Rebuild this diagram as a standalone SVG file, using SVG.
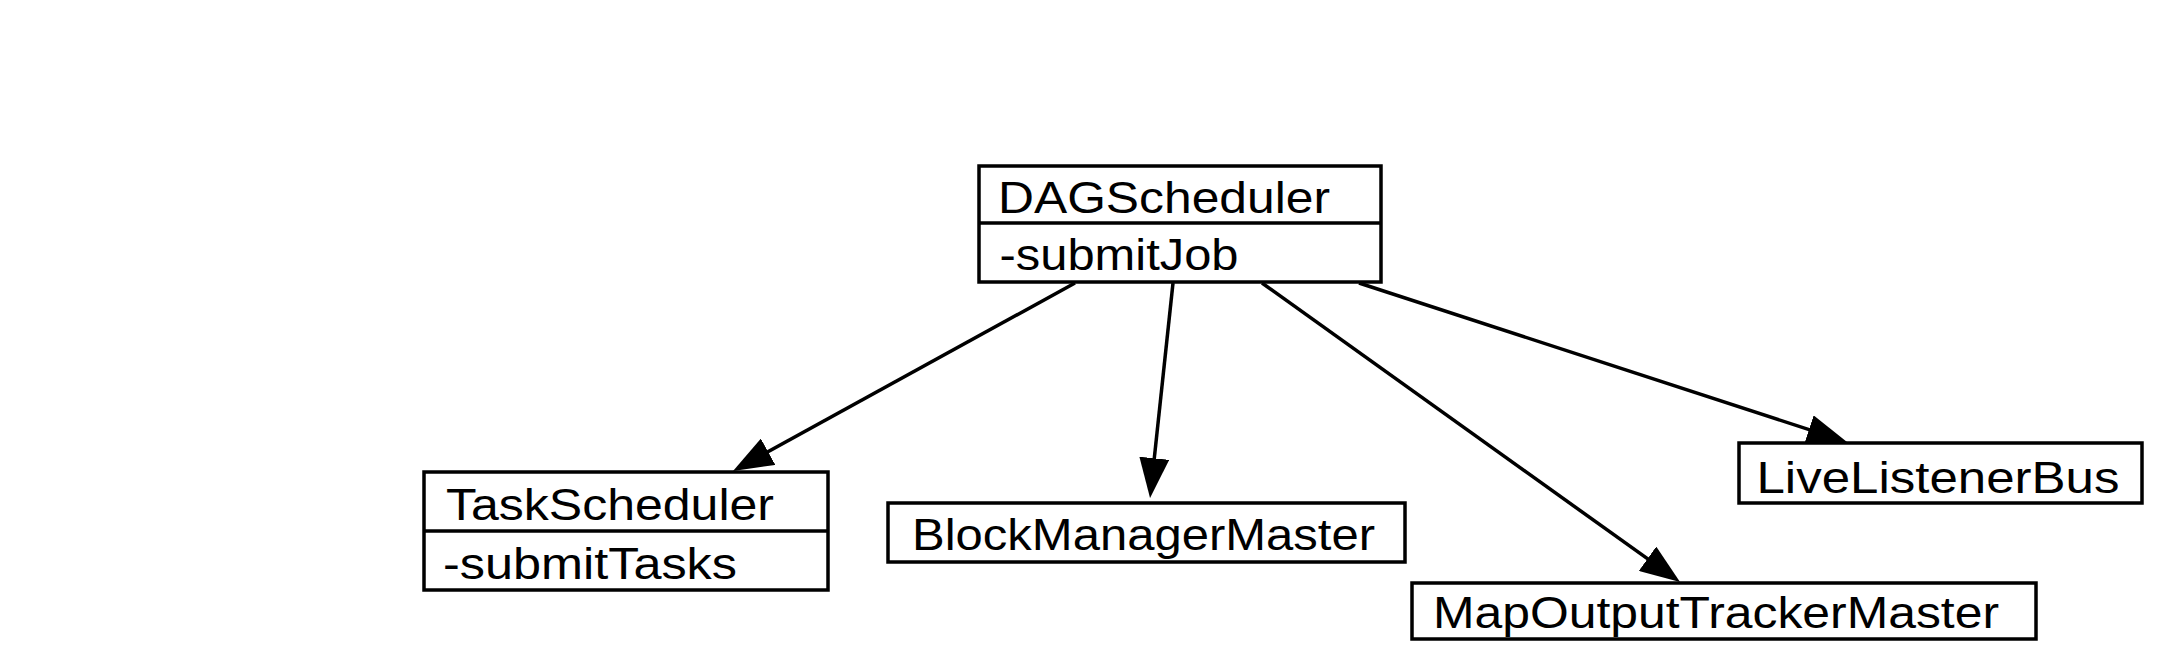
<svg xmlns="http://www.w3.org/2000/svg" width="2158" height="658" viewBox="0 0 2158 658">
<style>
.box{fill:#fff;stroke:#000;stroke-width:3.5}
.div{stroke:#000;stroke-width:3.5}
.t{font-family:"Liberation Sans",Arial,sans-serif;font-size:44px;fill:#000}
.edge{fill:none;stroke:#000;stroke-width:3.5;marker-end:url(#arr)}
</style>
<defs>
<marker id="arr" viewBox="0 0 40 30" refX="30" refY="15" markerWidth="40" markerHeight="30" orient="auto" markerUnits="userSpaceOnUse">
<path d="M0,0 L40,15 L0,30 z" fill="#000"/>
</marker>
</defs>
<rect width="2158" height="658" fill="#fff"/>
<g id="connectors">
<path class="edge" d="M1075,283 L741.8,466.2"/>
<path class="edge" d="M1173,283 L1151.1,488.1"/>
<path class="edge" d="M1262,283 L1671.9,576.2"/>
<path class="edge" d="M1359,283 L1837.5,438.9"/>
</g>
<g id="DAGScheduler">
<rect class="box" x="979" y="166" width="402" height="116"/>
<line class="div" x1="979" y1="223" x2="1381" y2="223"/>
<text class="t" x="998" y="213" textLength="332" lengthAdjust="spacingAndGlyphs">DAGScheduler</text>
<text class="t" x="999.5" y="270" textLength="239" lengthAdjust="spacingAndGlyphs">-submitJob</text>
</g>
<g id="TaskScheduler">
<rect class="box" x="424" y="472" width="404" height="118"/>
<line class="div" x1="424" y1="531" x2="828" y2="531"/>
<text class="t" x="446" y="520" textLength="328" lengthAdjust="spacingAndGlyphs">TaskScheduler</text>
<text class="t" x="443" y="579" textLength="294" lengthAdjust="spacingAndGlyphs">-submitTasks</text>
</g>
<g id="BlockManagerMaster">
<rect class="box" x="888" y="503" width="517" height="59"/>
<text class="t" x="912" y="550" textLength="463" lengthAdjust="spacingAndGlyphs">BlockManagerMaster</text>
</g>
<g id="MapOutputTrackerMaster">
<rect class="box" x="1412" y="583" width="624" height="56"/>
<text class="t" x="1433" y="628" textLength="566" lengthAdjust="spacingAndGlyphs">MapOutputTrackerMaster</text>
</g>
<g id="LiveListenerBus">
<rect class="box" x="1739" y="443" width="403" height="60"/>
<text class="t" x="1756.5" y="493" textLength="363" lengthAdjust="spacingAndGlyphs">LiveListenerBus</text>
</g>
</svg>
